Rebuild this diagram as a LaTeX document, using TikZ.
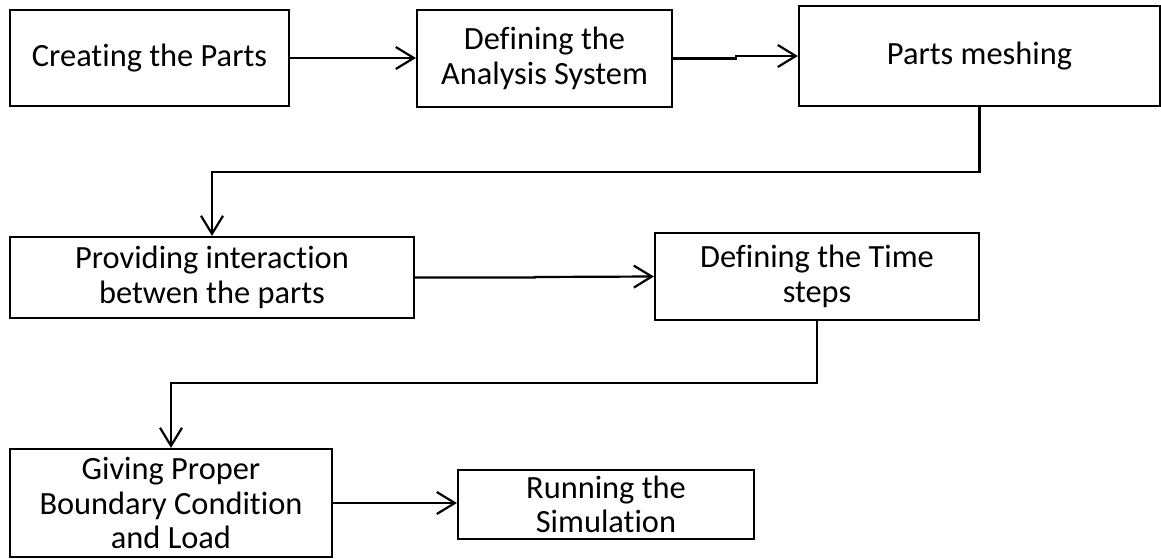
\documentclass[tikz,border=0pt]{standalone}
\usepackage{fontspec}
\setmainfont{Carlito}[Ligatures=NoCommon]
\usetikzlibrary{positioning,arrows.meta}
\definecolor{ink}{HTML}{000000}
\tikzset{
  proc/.style={draw=ink,line width=1.1pt,text=ink,align=center,inner sep=0pt,
    font=\fontsize{16.2}{17.3}\selectfont},
  flow/.style={draw=ink,line width=1.1pt,-{Straight Barb[length=9pt,width=11pt]}}
}
\begin{document}
\begin{tikzpicture}[x=0.5pt,y=-0.5pt]
  \useasboundingbox (0,0) rectangle (1161,558);
  \node[proc,minimum width=139.5pt,minimum height=48pt] (parts) at (149.5,58) {Creating the Parts};
  \node[proc,minimum width=127.5pt,minimum height=48.5pt] (system) at (544.5,58.5) {Defining the\\Analysis System};
  \node[proc,minimum width=180.5pt,minimum height=50pt] (mesh) at (979.5,56) {Parts meshing};
  \node[proc,minimum width=202pt,minimum height=40.5pt] (contact) at (212,277.5) {Providing interaction\\betwen the parts};
  \node[proc,minimum width=162pt,minimum height=43.5pt] (tsteps) at (817,276.5) {Defining the Time\\steps};
  \node[proc,minimum width=161pt,minimum height=54pt] (bcs) at (171,503) {Giving Proper\\Boundary Condition\\and Load};
  \node[proc,minimum width=148pt,minimum height=34.5pt] (run) at (606,504.5) {Running the\\Simulation};
  \coordinate (jog1) at (736,56);
  \coordinate (jog2) at (535,277);
  \coordinate (turn1) at (212,172);
  \coordinate (turn2) at (171,383);
  \draw[flow] (parts.east) -- (parts.east -| system.west);
  \draw[flow] (system.east) -- (jog1 |- system.east) -- (jog1) -- (mesh.west);
  \draw[flow] (mesh.south) |- (turn1) -- (contact.north);
  \draw[flow] (contact.east) -- (jog2 |- contact.east) -- (jog2) -- (tsteps.west);
  \draw[flow] (tsteps.south) |- (turn2) -- (bcs.north);
  \draw[flow] (bcs.east) -- (bcs.east -| run.west);
\end{tikzpicture}
\end{document}
